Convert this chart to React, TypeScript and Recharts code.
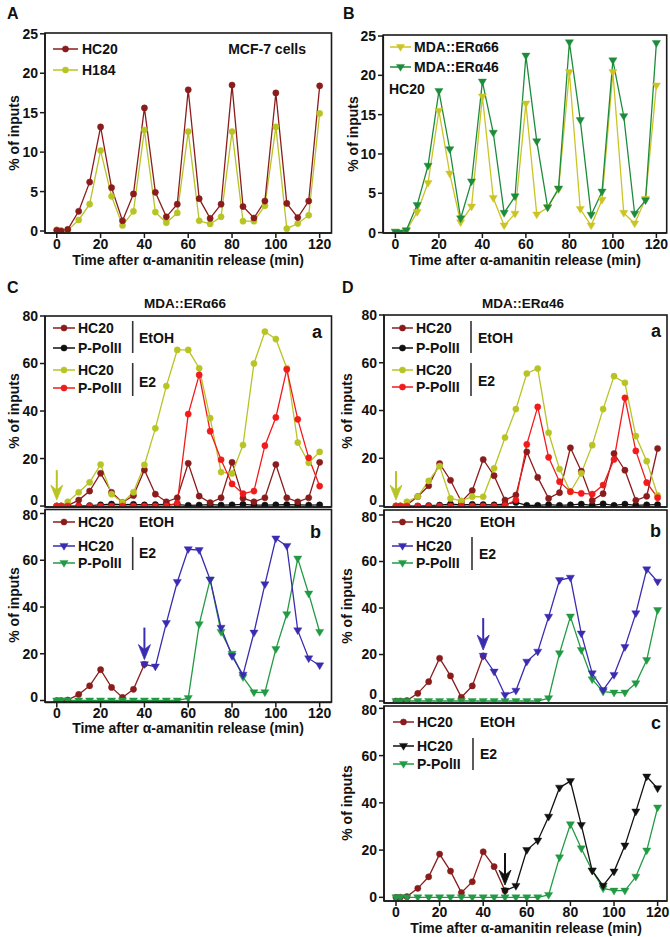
import React from 'react';
import { LineChart, Line, XAxis, YAxis, ReferenceDot } from 'recharts';

const N = null;
const times = [0, 2, 5, 10, 15, 20, 25, 30, 35, 40, 45, 50, 55, 60, 65, 70, 75, 80, 85, 90, 95, 100, 105, 110, 115, 120];
const xTicks = [0, 20, 40, 60, 80, 100, 120];
const yTicksSmall = [0, 5, 10, 15, 20, 25];
const yTicksLarge = [0, 20, 40, 60, 80];

// Panel A (MCF-7 cells)
const mcfHC20 = [0.1, 0, 0.2, 2.5, 6.2, 13.2, 5.5, 1.3, 4.7, 15.6, 4.9, 1.8, 3.4, 17.9, 4.1, 1.6, 3.4, 18.5, 3.1, 1.65, 3.8, 17.5, 3.5, 1.7, 3.8, 18.4];
const mcfH184 = [0.15, 0.05, 0.1, 1.4, 3.4, 10.2, 4.4, 0.7, 2.5, 12.8, 2.4, 1.05, 2.3, 12.6, 1.3, 0.9, 1.8, 12.6, 1.25, 1.25, 3.2, 13.2, 0.3, 0.95, 2.0, 14.9];

// Panel B (HC20)
const mdaEra66 = [0.1, 0, 0.2, 2.6, 6.3, 15.5, 7.5, 1.3, 3.3, 17.3, 4.4, 0.9, 2.4, 16.4, 2.3, 3.2, 5.5, 20.4, 3.0, 0.9, 4.15, 20.4, 2.5, 1.15, 4.3, 18.7];
const mdaEra46 = [0.1, 0, 0.3, 3.5, 8.5, 18.0, 10.6, 1.8, 6.5, 19.2, 12.7, 2.5, 4.6, 22.5, 11.6, 3.2, 5.6, 24.2, 14.3, 2.25, 5.2, 21.9, 14.8, 2.4, 4.1, 24.1];

// Panel C a (MDA::ERa66)
const caHC20EtOH = [0, 0, 0.2, 2.5, 6.3, 13.8, 5.8, 1.5, 4.4, 15.2, 5, 1.8, 3.5, 18, 4.2, 1.4, 3.5, 18.4, 3.3, 1.8, 3.5, 17.5, 3.5, 1.8, 3.5, 18.4];
const caPolIIEtOH = [0, 0, 0, 0, 0.2, 0.5, 0.8, 0.6, 0.7, 0.5, 0.6, 0.7, 0.6, 0.3, 0.4, 0.6, 0.4, 0.5, 0.7, 0.4, 0.4, 0.5, 0.6, 0.5, 0.4, 0.5];
const caHC20E2 = [0, 0, 1.8, 5.8, 10, 17.5, 5, 1.5, 5.8, 17.3, 32.7, 50.5, 65.7, 65.7, 58, 37, 14.3, 13.7, 25.7, 60, 73.4, 70.3, 58, 26.7, 18.2, 22.8];
const caPolIIE2 = [0, 0, 0, 0, 0, 0, 0, 0, 0, 0, 0, 0, 1.2, 38.7, 55.2, 31.5, 19.5, 9.3, 5.2, 6.3, 25.4, 37.3, 57.5, 36.5, 20.3, 8.4];

// Panel C b
const cbHC20EtOH = [0, 0, 0.2, 2.6, 6.3, 13.2, 5.6, 1.3, 4.8, 15.5, N, N, N, N, N, N, N, N, N, N, N, N, N, N, N, N];
const cbHC20E2 = [N, N, N, N, N, N, N, N, N, 15.5, 14.5, 33.1, 50.7, 64.7, 64.3, 51.7, 31.1, 19, 11, 29, 49.7, 69.3, 66.1, 30, 18, 15];
const cbPolIIE2 = [0, 0, 0, 0, 0, 0, 0, 0, 0, 0, 0, 0, 0, 1, 32.6, 51.7, 29.3, 20, 10, 3.5, 3.5, 22, 36.9, 60.7, 45.7, 29.3];

// Panel D a (MDA::ERa46)
const daHC20EtOH = [0, 0, 0.5, 4, 8.5, 17.8, 10.8, 1.8, 6.5, 19.5, 12.7, 2.5, 4.6, 22.7, 12, 3.2, 5.6, 24.4, 14.6, 2.3, 5.2, 22, 15, 2.4, 4.1, 24.1];
const daPolIIEtOH = [0, 0, 0, 0, 0.2, 0.4, 0.8, 0.5, 0.7, 0.6, 0.5, 0.8, 1.5, 0.3, 0.3, 0.6, 0.3, 0.5, 0.8, 0.3, 0.9, 0.3, 0.8, 0.3, 0.5, 0.6];
const daHC20E2 = [0, 0, 1.8, 4, 10.5, 16.7, 3.2, 2.2, 3.9, 3.9, 15.8, 28.7, 40.6, 55.5, 57.6, 30.7, 15.5, 6, 13.7, 25.5, 40.6, 54.4, 51.6, 29.3, 18.8, 4.5];
const daPolIIE2 = [0, 0, 0, 0, 0, 0, 0, 0, 0, 0, 0, 0.3, 2.5, 25.8, 41.5, 20.4, 10.2, 6, 5.3, 5, 8.8, 19.5, 45.3, 23.1, 9.8, 3.5];

// Panel D b
const dbHC20EtOH = [0, 0, 0.2, 3.3, 8.3, 18.4, 10.8, 1.6, 6.5, 19.4, N, N, N, N, N, N, N, N, N, N, N, N, N, N, N, N];
const dbHC20E2 = [N, N, N, N, N, N, N, N, N, 19.4, 12.6, 2.6, 4.4, 16.9, 21.2, 36.2, 52, 53, 29, 11.9, 4.7, 11.2, 23.2, 37.7, 56.6, 51.3];
const dbPolIIE2 = [0, 0, 0, 0, 0, 0, 0, 0, 0, 0, 0, 0, 0, 0, 0, 1.2, 20.5, 36.3, 21.9, 9.3, 4, 3.6, 3.6, 7.6, 17.6, 39.1];

// Panel D c
const dcHC20EtOH = [0, 0, 0.3, 3.8, 8.7, 18.3, 11.1, 2, 6.6, 19.3, 13, 2.8, N, N, N, N, N, N, N, N, N, N, N, N, N, N];
const dcHC20E2 = [N, N, N, N, N, N, N, N, N, N, N, 2.8, 4.8, 20, 24, 34.1, 46.4, 49.2, 30.6, 11.3, 4.9, 10.9, 21.9, 36.3, 51.1, 46.1];
const dcPolIIE2 = [0, 0, 0, 0, 0, 0, 0, 0, 0, 0, 0, 0, 0, 0, 0, 1, 16.9, 30.9, 20.7, 11.3, 3.8, 2.8, 2.8, 8.7, 19.8, 38];

const FONT = '"Liberation Sans", Arial, Helvetica, sans-serif';
const AX = '#1a1a1a';
const C_DARKRED = '#8B1C1C';
const C_YG = '#B8C425';
const C_YELLOW = '#CCC424';
const C_BGREEN = '#1C8C3A';
const C_RED = '#F21B1B';
const C_BLACK = '#111111';
const C_BLUE = '#3A2CB0';
const C_GREEN = '#229A44';

type Marker = 'circle' | 'tri';
type SeriesDef = { key: string; values: (number | null)[]; color: string; marker: Marker };
type ArrowDef = { x: number; y: number; color: string; len: number };
type PanelDef = {
  L: number; R: number; T: number; B: number;
  xDomain: [number, number]; yDomain: [number, number]; yTicks: number[];
  showXLabels: boolean; series: SeriesDef[]; arrows?: ArrowDef[];
  zeroShift?: number; topShift?: number;
};

function markerShape(m: Marker, cx: number, cy: number, color: string, key?: any) {
  if (m === 'circle') return <circle key={key} cx={cx} cy={cy} r={3.1} fill={color} stroke={color} strokeWidth={0.5} />;
  return <path key={key} d={`M${cx - 4.1},${cy - 2.6} L${cx + 4.1},${cy - 2.6} L${cx},${cy + 4.3} Z`} fill={color} stroke={color} strokeWidth={0.4} />;
}

function Arrow({ cx, cy, color, len }: { cx: number; cy: number; color: string; len: number }) {
  return (
    <g>
      <line x1={cx} y1={cy - len} x2={cx} y2={cy - 8} stroke={color} strokeWidth={2} />
      <path d={`M${cx},${cy} L${cx - 6},${cy - 15} L${cx},${cy - 10} L${cx + 6},${cy - 15} Z`} fill={color} stroke={color} strokeWidth={0.8} />
    </g>
  );
}

const tickStyle = { fill: '#111', fontSize: 14, fontWeight: 700, fontFamily: FONT };

function Panel({ p }: { p: PanelDef }) {
  const data = times.map((t, i) => {
    const row: any = { t };
    p.series.forEach((s) => { row[s.key] = s.values[i]; });
    return row;
  });
  const w = p.R - p.L + 50;
  const h = p.B - p.T + 50;
  const yTick = (props: any) => {
    const { x, y, payload } = props;
    let dy = 0;
    if (payload.value === 0) dy = p.zeroShift || 0;
    if (payload.value === p.yTicks[p.yTicks.length - 1]) dy = p.topShift || 0;
    return (
      <text x={x} y={y + dy} dy="0.355em" textAnchor="end" fill="#111" fontSize={14} fontWeight={700} fontFamily={FONT}>
        {payload.value}
      </text>
    );
  };
  return (
    <div style={{ position: 'absolute', left: p.L - 40, top: p.T - 10, width: w, height: h }}>
      <LineChart width={w} height={h} data={data} margin={{ top: 10, right: 10, bottom: 0, left: 0 }}>
        <XAxis
          dataKey="t" type="number" domain={p.xDomain} ticks={xTicks} allowDataOverflow interval={0}
          height={40} tickSize={5} tickMargin={1}
          tick={p.showXLabels ? tickStyle : false}
          axisLine={{ stroke: AX, strokeWidth: 1.6 }} tickLine={{ stroke: AX, strokeWidth: 1.5 }}
        />
        <YAxis
          type="number" domain={p.yDomain} ticks={p.yTicks} allowDataOverflow interval={0}
          width={40} tickSize={5} tickMargin={2} tick={yTick}
          axisLine={{ stroke: AX, strokeWidth: 1.6 }} tickLine={{ stroke: AX, strokeWidth: 1.5 }}
        />
        {p.series.map((s) => (
          <Line
            key={s.key} dataKey={s.key} type="linear" stroke={s.color} strokeWidth={1.3}
            isAnimationActive={false} connectNulls={false} activeDot={false}
            dot={(props: any) => {
              const { cx, cy, index, value } = props;
              if (cx == null || cy == null || value == null || (Array.isArray(value) && value[1] == null)) return <g key={`e${index}`} />;
              return markerShape(s.marker, cx, cy, s.color, `d${index}`);
            }}
          />
        ))}
        {(p.arrows || []).map((a, i) => (
          <ReferenceDot
            key={`ar${i}`} x={a.x} y={a.y} r={0}
            shape={(props: any) => <Arrow cx={props.cx} cy={props.cy} color={a.color} len={a.len} />}
          />
        ))}
      </LineChart>
    </div>
  );
}

const LXD: [number, number] = [-5.38, 125.4];
const panels: PanelDef[] = [
  {
    L: 45, R: 331.5, T: 33, B: 233, xDomain: LXD, yDomain: [-0.25, 25.1], yTicks: yTicksSmall, showXLabels: true,
    series: [
      { key: 'h184', values: mcfH184, color: C_YG, marker: 'circle' },
      { key: 'hc20', values: mcfHC20, color: C_DARKRED, marker: 'circle' },
    ],
  },
  {
    L: 383.3, R: 666.7, T: 35, B: 233, xDomain: [-5.7, 124.6], yDomain: [-0.05, 25.13], yTicks: yTicksSmall, showXLabels: true,
    series: [
      { key: 'e66', values: mdaEra66, color: C_YELLOW, marker: 'tri' },
      { key: 'e46', values: mdaEra46, color: C_BGREEN, marker: 'tri' },
    ],
  },
  {
    L: 45, R: 331.5, T: 316, B: 507, xDomain: LXD, yDomain: [-0.4, 80], yTicks: yTicksLarge, showXLabels: false,
    zeroShift: -6,
    series: [
      { key: 'pe', values: caPolIIEtOH, color: C_BLACK, marker: 'circle' },
      { key: 'he', values: caHC20EtOH, color: C_DARKRED, marker: 'circle' },
      { key: 'h2', values: caHC20E2, color: C_YG, marker: 'circle' },
      { key: 'p2', values: caPolIIE2, color: C_RED, marker: 'circle' },
    ],
    arrows: [{ x: 0, y: 2.5, color: C_YG, len: 30 }],
  },
  {
    L: 45, R: 331.5, T: 509.5, B: 702, xDomain: LXD, yDomain: [-0.85, 81.5], yTicks: yTicksLarge, showXLabels: true,
    zeroShift: -3, topShift: 2,
    series: [
      { key: 'he', values: cbHC20EtOH, color: C_DARKRED, marker: 'circle' },
      { key: 'p2', values: cbPolIIE2, color: C_GREEN, marker: 'tri' },
      { key: 'h2', values: cbHC20E2, color: C_BLUE, marker: 'tri' },
    ],
    arrows: [{ x: 40, y: 17.5, color: C_BLUE, len: 32 }],
  },
  {
    L: 384, R: 667, T: 315, B: 507, xDomain: [-5.5, 124.3], yDomain: [-0.4, 80], yTicks: yTicksLarge, showXLabels: false,
    zeroShift: -6,
    series: [
      { key: 'pe', values: daPolIIEtOH, color: C_BLACK, marker: 'circle' },
      { key: 'he', values: daHC20EtOH, color: C_DARKRED, marker: 'circle' },
      { key: 'h2', values: daHC20E2, color: C_YG, marker: 'circle' },
      { key: 'p2', values: daPolIIE2, color: C_RED, marker: 'circle' },
    ],
    arrows: [{ x: 0, y: 2.5, color: C_YG, len: 29 }],
  },
  {
    L: 384, R: 667, T: 510, B: 703, xDomain: [-5.5, 124.3], yDomain: [-0.85, 82.15], yTicks: yTicksLarge, showXLabels: false,
    zeroShift: -7, topShift: 2,
    series: [
      { key: 'he', values: dbHC20EtOH, color: C_DARKRED, marker: 'circle' },
      { key: 'p2', values: dbPolIIE2, color: C_GREEN, marker: 'tri' },
      { key: 'h2', values: dbHC20E2, color: C_BLUE, marker: 'tri' },
    ],
    arrows: [{ x: 40, y: 21.9, color: C_BLUE, len: 32 }],
  },
  {
    L: 384, R: 667, T: 706, B: 901, xDomain: [-5.5, 124.3], yDomain: [-1.55, 81], yTicks: yTicksLarge, showXLabels: true,
    topShift: 2,
    series: [
      { key: 'he', values: dcHC20EtOH, color: C_DARKRED, marker: 'circle' },
      { key: 'p2', values: dcPolIIE2, color: C_GREEN, marker: 'tri' },
      { key: 'h2', values: dcHC20E2, color: C_BLACK, marker: 'tri' },
    ],
    arrows: [{ x: 50, y: 5.2, color: C_BLACK, len: 32 }],
  },
];

type LegRow = { y: number; label: string; color: string; marker: Marker };
function LegendRows({ x1, x2, tx, rows }: { x1: number; x2: number; tx: number; rows: LegRow[] }) {
  return (
    <g>
      {rows.map((r, i) => {
        const my = r.y - 5;
        return (
          <g key={i}>
            <line x1={x1} y1={my} x2={x2} y2={my} stroke={r.color} strokeWidth={1.5} />
            {markerShape(r.marker, (x1 + x2) / 2, my, r.color)}
            <text x={tx} y={r.y} fontSize={14} fontWeight={700} fontFamily={FONT} fill="#111">{r.label}</text>
          </g>
        );
      })}
    </g>
  );
}

function T({ x, y, s = 14, anchor = 'start', children }: any) {
  return <text x={x} y={y} fontSize={s} fontWeight={700} fontFamily={FONT} fill="#111" textAnchor={anchor}>{children}</text>;
}

function YLabel({ x, y }: { x: number; y: number }) {
  return (
    <text x={0} y={0} transform={`translate(${x},${y}) rotate(-90)`} fontSize={14} fontWeight={700} fontFamily={FONT} fill="#111" textAnchor="middle">% of inputs</text>
  );
}

function Bar({ x, y1, y2 }: { x: number; y1: number; y2: number }) {
  return <line x1={x} y1={y1} x2={x} y2={y2} stroke="#333" strokeWidth={1.6} />;
}

const XLABEL = 'Time after \u03b1-amanitin release (min)';

function Overlay() {
  return (
    <svg width={670} height={937} style={{ position: 'absolute', left: 0, top: 0, pointerEvents: 'none' }}>
      {panels.map((p, i) => (
        <rect key={i} x={p.L} y={p.T} width={p.R - p.L} height={p.B - p.T} fill="none" stroke={AX} strokeWidth={1.6} />
      ))}
      <T x={7} y={18.5} s={16}>A</T>
      <T x={343} y={18.5} s={16}>B</T>
      <T x={7} y={293} s={16}>C</T>
      <T x={342} y={293} s={16}>D</T>

      <T x={188} y={265} anchor="middle">{XLABEL}</T>
      <T x={525} y={265} anchor="middle">{XLABEL}</T>
      <T x={188} y={733} anchor="middle">{XLABEL}</T>
      <T x={526} y={933} anchor="middle">{XLABEL}</T>

      <YLabel x={19} y={133} />
      <YLabel x={358} y={134} />
      <YLabel x={19} y={411} />
      <YLabel x={19} y={605} />
      <YLabel x={352} y={411} />
      <YLabel x={352} y={606} />
      <YLabel x={352} y={803} />

      <T x={185} y={308} s={13.5} anchor="middle">MDA::ER{'\u03b1'}66</T>
      <T x={523} y={308} s={13.5} anchor="middle">MDA::ER{'\u03b1'}46</T>

      {/* A legend */}
      <LegendRows x1={53} x2={78} tx={82} rows={[
        { y: 54, label: 'HC20', color: C_DARKRED, marker: 'circle' },
        { y: 75, label: 'H184', color: C_YG, marker: 'circle' },
      ]} />
      <T x={306} y={54} anchor="end">MCF-7 cells</T>

      {/* B legend */}
      <LegendRows x1={390} x2={411} tx={414} rows={[
        { y: 52, label: 'MDA::ER\u03b166', color: C_YELLOW, marker: 'tri' },
        { y: 72, label: 'MDA::ER\u03b146', color: C_BGREEN, marker: 'tri' },
      ]} />
      <T x={389} y={94}>HC20</T>

      {/* C a legend */}
      <LegendRows x1={53} x2={75} tx={78} rows={[
        { y: 333, label: 'HC20', color: C_DARKRED, marker: 'circle' },
        { y: 353, label: 'P-PolII', color: C_BLACK, marker: 'circle' },
        { y: 375, label: 'HC20', color: C_YG, marker: 'circle' },
        { y: 393, label: 'P-PolII', color: C_RED, marker: 'circle' },
      ]} />
      <Bar x={132.7} y1={321} y2={353} />
      <Bar x={132.7} y1={363} y2={396} />
      <T x={139} y={343}>EtOH</T>
      <T x={139} y={387}>E2</T>
      <T x={312} y={338} s={18}>a</T>

      {/* C b legend */}
      <LegendRows x1={53} x2={75} tx={78} rows={[
        { y: 527, label: 'HC20', color: C_DARKRED, marker: 'circle' },
        { y: 551, label: 'HC20', color: C_BLUE, marker: 'tri' },
        { y: 568, label: 'P-PolII', color: C_GREEN, marker: 'tri' },
      ]} />
      <T x={139} y={527}>EtOH</T>
      <Bar x={132.7} y1={537} y2={570} />
      <T x={139} y={558}>E2</T>
      <T x={310} y={538} s={18}>b</T>

      {/* D a legend */}
      <LegendRows x1={392} x2={413} tx={416} rows={[
        { y: 333, label: 'HC20', color: C_DARKRED, marker: 'circle' },
        { y: 353, label: 'P-PolII', color: C_BLACK, marker: 'circle' },
        { y: 375, label: 'HC20', color: C_YG, marker: 'circle' },
        { y: 392, label: 'P-PolII', color: C_RED, marker: 'circle' },
      ]} />
      <Bar x={471} y1={321} y2={353} />
      <Bar x={471} y1={363} y2={396} />
      <T x={478} y={343}>EtOH</T>
      <T x={478} y={386}>E2</T>
      <T x={651} y={337} s={18}>a</T>

      {/* D b legend */}
      <LegendRows x1={392} x2={413} tx={416} rows={[
        { y: 527, label: 'HC20', color: C_DARKRED, marker: 'circle' },
        { y: 551, label: 'HC20', color: C_BLUE, marker: 'tri' },
        { y: 568, label: 'P-PolII', color: C_GREEN, marker: 'tri' },
      ]} />
      <T x={480} y={527}>EtOH</T>
      <Bar x={472} y1={537} y2={570} />
      <T x={479} y={559}>E2</T>
      <T x={650} y={537} s={18}>b</T>

      {/* D c legend */}
      <LegendRows x1={393} x2={414} tx={417} rows={[
        { y: 727, label: 'HC20', color: C_DARKRED, marker: 'circle' },
        { y: 751, label: 'HC20', color: C_BLACK, marker: 'tri' },
        { y: 769, label: 'P-PolII', color: C_GREEN, marker: 'tri' },
      ]} />
      <T x={480} y={727}>EtOH</T>
      <Bar x={473} y1={738} y2={770} />
      <T x={480} y={759}>E2</T>
      <T x={651} y={729} s={18}>c</T>
    </svg>
  );
}

export default function App() {
  return (
    <div style={{ position: 'absolute', left: 0, top: 0, width: 670, height: 937, background: '#fff', overflow: 'hidden' }}>
      {panels.map((p, i) => <Panel key={i} p={p} />)}
      <Overlay />
    </div>
  );
}
